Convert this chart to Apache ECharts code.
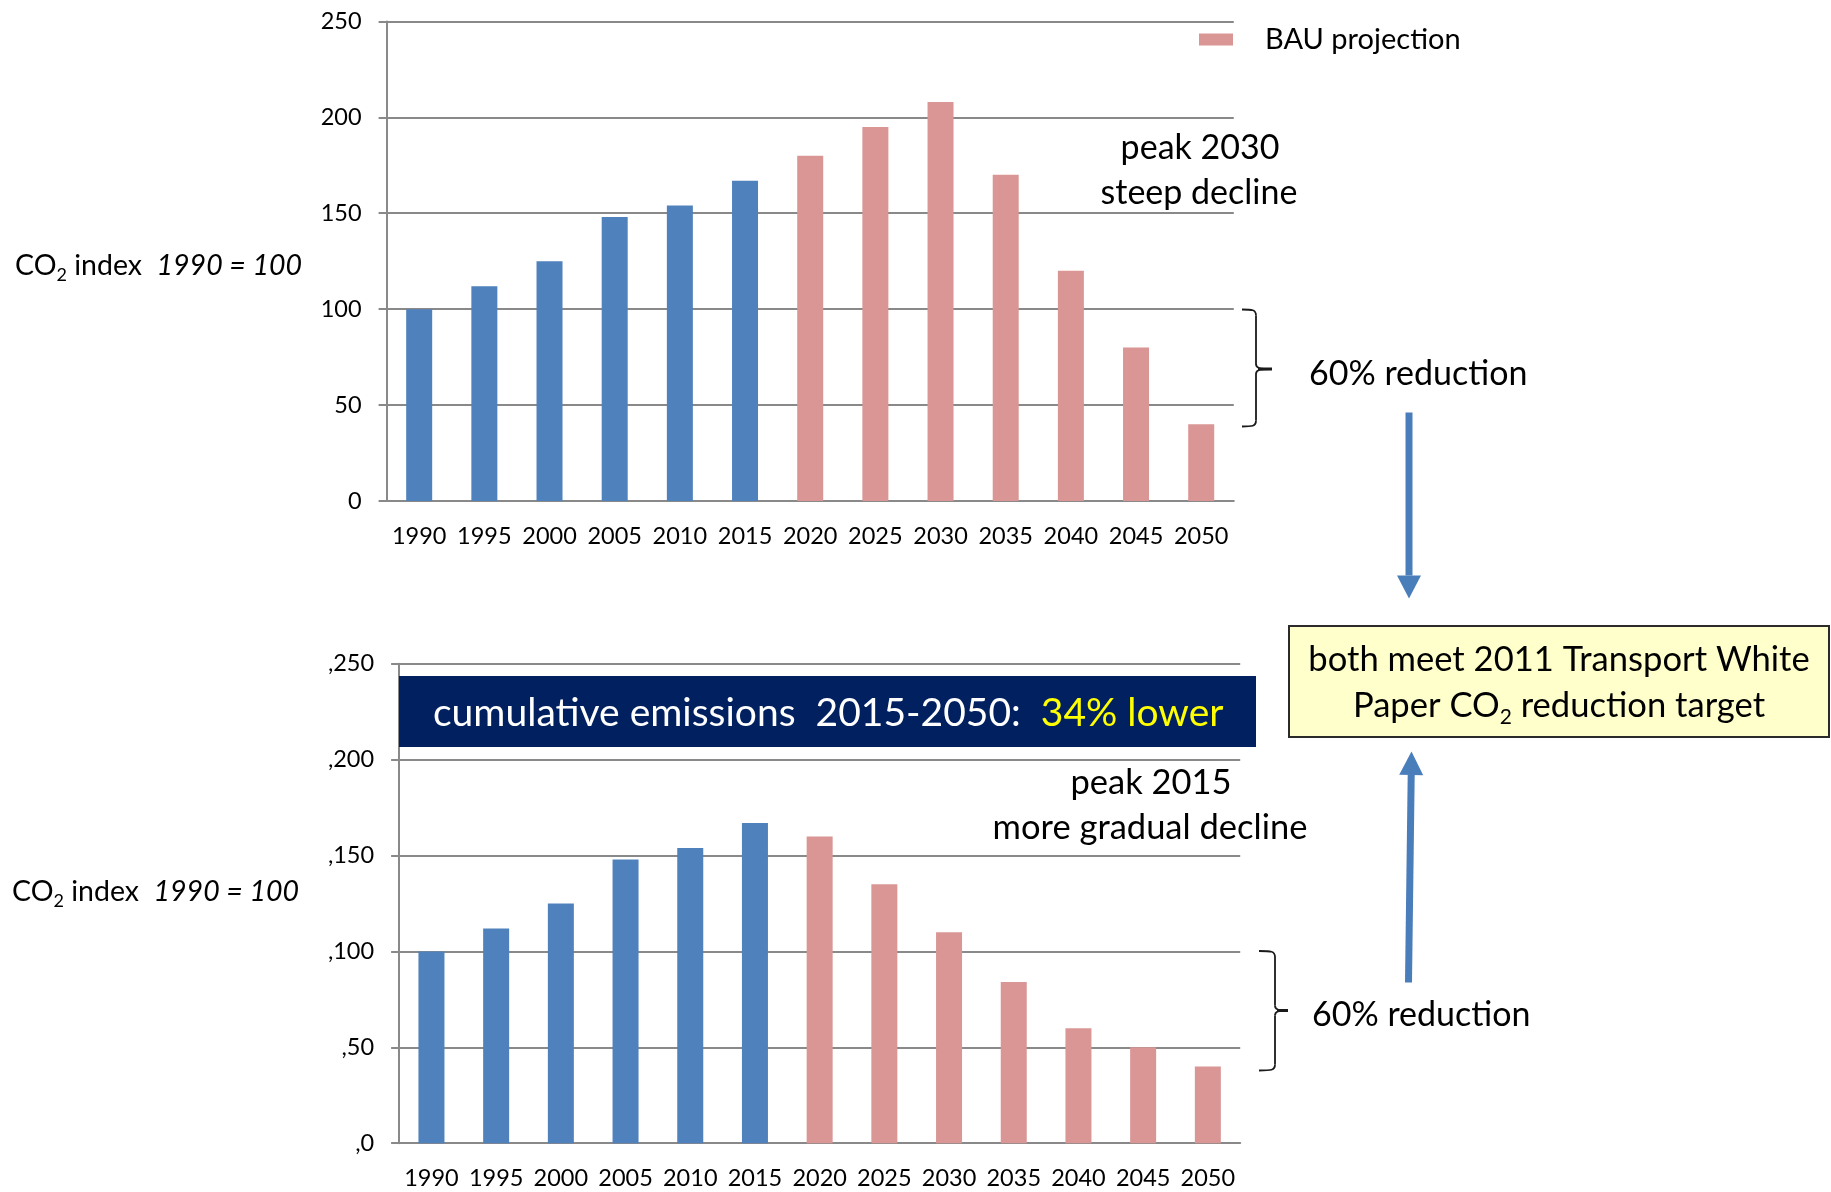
<!DOCTYPE html>
<html>
<head>
<meta charset="utf-8">
<script src="https://cdn.jsdelivr.net/npm/echarts@6/dist/echarts.min.js"></script>
<style>
  html, body { margin: 0; padding: 0; background: #ffffff; }
  #chart { width: 1831px; height: 1192px; }
</style>
</head>
<body>
<div id="chart"></div>
<script>
// Five-year steps shared by both panels
const years = ['1990', '1995', '2000', '2005', '2010', '2015', '2020',
               '2025', '2030', '2035', '2040', '2045', '2050'];

// Observed index 1990-2015 (1990 = 100)
const observed = [100, 112, 125, 148, 154, 167];

// Upper panel: business-as-usual path 2020-2050
const bauProjection = [180, 195, 208, 170, 120, 80, 40];

// Lower panel: earlier-peaking path 2020-2050
const gradualProjection = [160, 135, 110, 84, 60, 50, 40];

// Value-axis tick labels
const upperTicks = ['0', '50', '100', '150', '200', '250'];
const lowerTicks = [',0', ',50', ',100', ',150', ',200', ',250'];

const FONT = 'Lato, "Noto Sans", sans-serif';
const GRAY = '#898989';
const BLUE = '#4f81bd';
const PINK = '#d99694';
const ARROW = '#4a7ebb';

function leadPart(values) {
  return years.map((y, i) => (i < values.length ? values[i] : '-'));
}
function tailPart(values) {
  const offset = years.length - values.length;
  return years.map((y, i) => (i >= offset ? values[i - offset] : '-'));
}

function catAxis(gridIndex) {
  return {
    type: 'category',
    gridIndex: gridIndex,
    data: years,
    axisLine: { lineStyle: { color: GRAY, width: 2 } },
    axisTick: { length: 8, lineStyle: { color: GRAY, width: 2 } },
    axisLabel: { interval: 0, margin: 23, color: '#000', fontSize: 23.5, fontFamily: FONT }
  };
}
function valAxis(gridIndex, ticks) {
  return {
    type: 'value',
    gridIndex: gridIndex,
    min: 0, max: 250, interval: 50,
    axisLine: { show: true, lineStyle: { color: GRAY, width: 2 } },
    axisTick: { show: true, length: 8, lineStyle: { color: GRAY, width: 2 } },
    splitLine: { lineStyle: { color: GRAY, width: 2 } },
    axisLabel: {
      margin: 25, color: '#000', fontSize: 23.5, fontFamily: FONT,
      formatter: v => ticks[Math.round(v / 50)]
    }
  };
}

// Rich-text styles with a lowered small "2" for CO2
function coRich(size) {
  return {
    n: { fontSize: size, fontFamily: FONT, fill: '#000', lineHeight: size + 8 },
    s: { fontSize: Math.round(size * 0.62), fontFamily: FONT, fill: '#000',
         lineHeight: Math.round(size * 0.62), verticalAlign: 'bottom' },
    i: { fontSize: size, fontFamily: FONT, fontStyle: 'italic', fill: '#000', lineHeight: size + 8 }
  };
}

function plainText(x, y, text, size, align) {
  return {
    type: 'text', z: 20,
    style: { x: x, y: y, text: text, fill: '#000', font: size + 'px ' + FONT,
             textAlign: align || 'center', textVerticalAlign: 'middle' }
  };
}

// Curly brace opening to the left, pointing right at "center"
function brace(left, mid, tip, top, center, bottom) {
  const st = { stroke: '#1a1a1a', lineWidth: 1.8, fill: null };
  const curve = (x1, y1, c1x, c1y, c2x, c2y, x2, y2) => ({
    type: 'bezierCurve', z: 20,
    shape: { x1: x1, y1: y1, cpx1: c1x, cpy1: c1y, cpx2: c2x, cpy2: c2y, x2: x2, y2: y2 },
    style: st
  });
  const seg = (x1, y1, x2, y2) => ({ type: 'line', z: 20, shape: { x1: x1, y1: y1, x2: x2, y2: y2 }, style: st });
  return [
    curve(left, top, mid - 4, top, mid, top, mid, top + 6),
    seg(mid, top + 6, mid, center - 5),
    curve(mid, center - 5, mid, center - 1, mid + 3, center, tip, center),
    curve(tip, center, mid + 3, center, mid, center + 1, mid, center + 5),
    seg(mid, center + 5, mid, bottom - 6),
    curve(mid, bottom - 6, mid, bottom, mid - 4, bottom, left, bottom),
    { type: 'line', z: 20, shape: { x1: mid + 2, y1: center, x2: tip, y2: center },
      style: { stroke: '#1a1a1a', lineWidth: 3 } }
  ];
}

function arrow(x1, y1, x2, y2, headLen, headHalf) {
  const dx = x2 - x1, dy = y2 - y1;
  const len = Math.sqrt(dx * dx + dy * dy);
  const ux = dx / len, uy = dy / len;
  const bx = x2 - ux * headLen, by = y2 - uy * headLen;
  return [
    { type: 'line', z: 20, shape: { x1: x1, y1: y1, x2: bx, y2: by },
      style: { stroke: ARROW, lineWidth: 7 } },
    { type: 'polygon', z: 20,
      shape: { points: [[x2, y2], [bx - uy * headHalf, by + ux * headHalf], [bx + uy * headHalf, by - ux * headHalf]] },
      style: { fill: ARROW } }
  ];
}

const chart = echarts.init(document.getElementById('chart'), null, { renderer: 'canvas' });

const notes = [
  // y-axis titles
  { type: 'text', z: 20, style: { x: 15, y: 266, textVerticalAlign: 'middle',
      text: '{n|CO}{s|2}{n| index  }{i|1990 = 100}', rich: coRich(28.5) } },
  { type: 'text', z: 20, style: { x: 12, y: 892, textVerticalAlign: 'middle',
      text: '{n|CO}{s|2}{n| index  }{i|1990 = 100}', rich: coRich(28.5) } },

  // upper panel notes
  plainText(1200, 148, 'peak 2030', 34),
  plainText(1199, 193, 'steep decline', 34),
  plainText(1309, 374, '60% reduction', 34, 'left'),

  // lower panel notes
  { type: 'rect', z: 15, shape: { x: 399, y: 676, width: 857, height: 71 }, style: { fill: '#002060' } },
  { type: 'text', z: 20, style: { x: 433, y: 713, textVerticalAlign: 'middle',
      text: '{w|cumulative emissions  2015-2050:  }{y|34% lower}',
      rich: { w: { fontSize: 39, fontFamily: FONT, fill: '#ffffff' },
              y: { fontSize: 39, fontFamily: FONT, fill: '#ffff00' } } } },
  plainText(1151, 783, 'peak 2015', 34.5),
  plainText(1150, 828, 'more gradual decline', 34.5),
  plainText(1312, 1015, '60% reduction', 34, 'left'),

  // shared target box
  { type: 'rect', z: 15, shape: { x: 1289, y: 626, width: 540, height: 111 },
    style: { fill: '#ffffcc', stroke: '#2b2b2b', lineWidth: 2 } },
  plainText(1559, 660, 'both meet 2011 Transport White', 34.6),
  { type: 'text', z: 20, style: { x: 1559, y: 706, textAlign: 'center', textVerticalAlign: 'middle',
      text: '{n|Paper CO}{s|2}{n| reduction target}', rich: coRich(34.6) } }
]
  .concat(brace(1242, 1256, 1272, 309.5, 369, 426.5))
  .concat(brace(1259, 1275, 1288, 951, 1010.5, 1070.5))
  .concat(arrow(1409, 412.5, 1409, 598.5, 23, 12))
  .concat(arrow(1408.5, 982.5, 1411.5, 751.5, 23.5, 12));

chart.setOption({
  animation: false,
  backgroundColor: '#ffffff',
  grid: [
    { left: 386.6, top: 21.4, width: 847.2, height: 479.6 },
    { left: 399.1, top: 663.8, width: 841.1, height: 479.4 }
  ],
  legend: {
    data: ['BAU projection'],
    left: 1199, top: 25, padding: 0,
    icon: 'rect', itemWidth: 34, itemHeight: 12,
    textStyle: { fontSize: 29, fontFamily: FONT, color: '#000', padding: [0, 0, 0, 27] }
  },
  xAxis: [catAxis(0), catAxis(1)],
  yAxis: [valAxis(0, upperTicks), valAxis(1, lowerTicks)],
  series: [
    { name: 'Observed', type: 'bar', xAxisIndex: 0, yAxisIndex: 0, barWidth: 26, barGap: '-100%',
      itemStyle: { color: BLUE }, data: leadPart(observed) },
    { name: 'BAU projection', type: 'bar', xAxisIndex: 0, yAxisIndex: 0, barWidth: 26, barGap: '-100%',
      itemStyle: { color: PINK }, data: tailPart(bauProjection) },
    { name: 'Observed (lower)', type: 'bar', xAxisIndex: 1, yAxisIndex: 1, barWidth: 26, barGap: '-100%',
      itemStyle: { color: BLUE }, data: leadPart(observed) },
    { name: 'Gradual projection', type: 'bar', xAxisIndex: 1, yAxisIndex: 1, barWidth: 26, barGap: '-100%',
      itemStyle: { color: PINK }, data: tailPart(gradualProjection) }
  ],
  graphic: notes
});
</script>
</body>
</html>
